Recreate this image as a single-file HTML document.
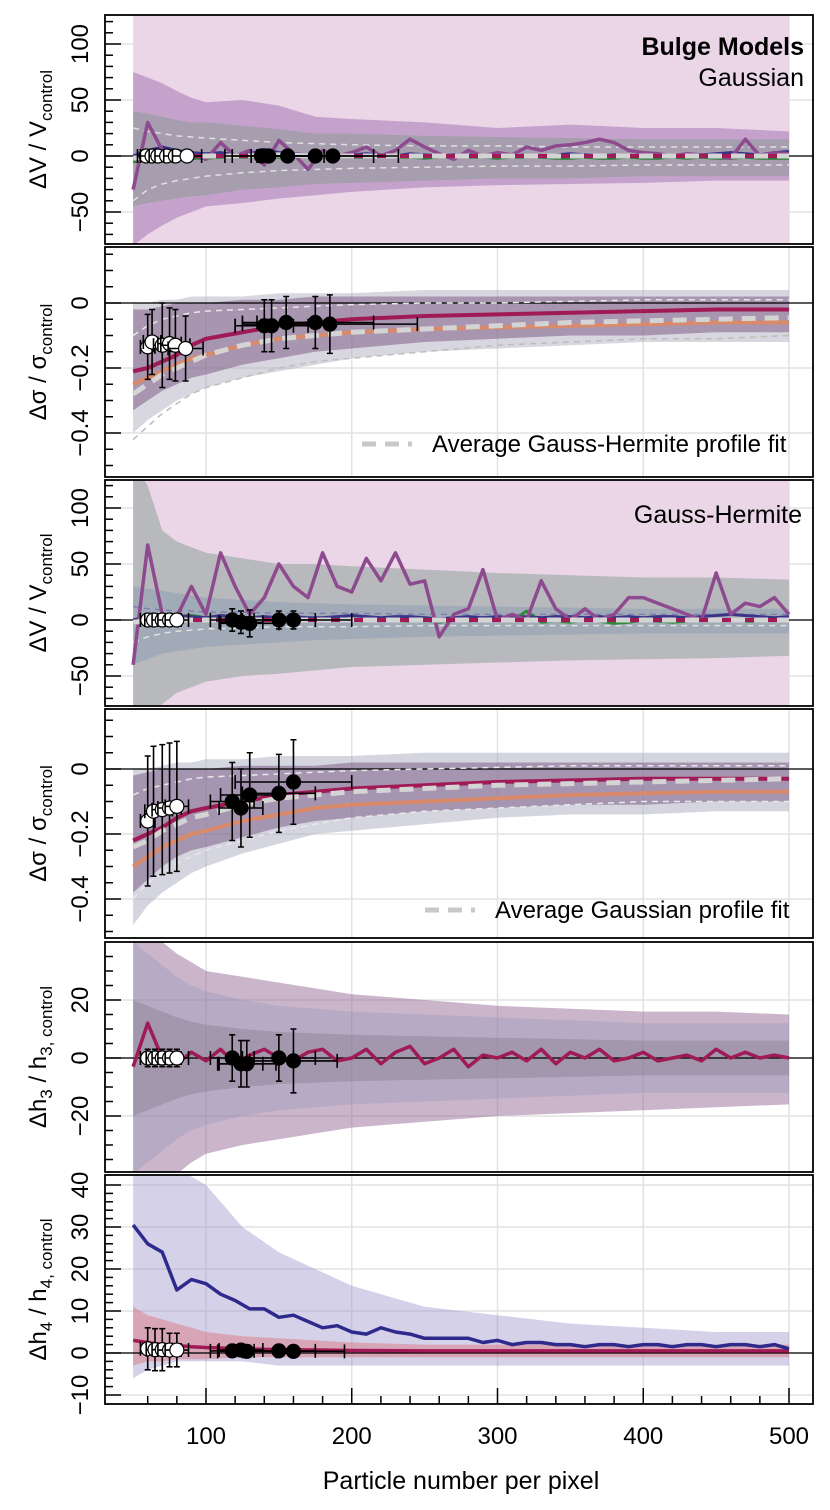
<!DOCTYPE html>
<html><head><meta charset="utf-8">
<style>
body{margin:0;background:#fff;}
svg{display:block;font-family:"Liberation Sans",sans-serif;}
</style></head>
<body>
<svg id="chart" width="830" height="1510" viewBox="0 0 830 1510" xmlns="http://www.w3.org/2000/svg"></svg>
<script>
// ---------- DATA ----------
const xTicks = [100,200,300,400,500];
const xGrid = [50,60,70,80,90,100,110,120,130,140,150,160,170,180,190,200,210,220,230,240,250,260,270,280,290,300,310,320,330,340,350,360,370,380,390,400,410,420,430,440,450,460,470,480,490,500];
const knots = [50,60,70,80,90,100,125,150,175,200,250,300,350,400,450,500];

// Panel 1: dV/V Gaussian
const p1PinkU = [140,140,140,140,140,140,140,140,140,140,140,140,140,140,135,130];
const p1PinkL = [-90,-90,-90,-90,-90,-90,-90,-90,-90,-90,-90,-90,-90,-90,-90,-90];
const p1PurpU = [75,70,65,58,52,48,50,45,35,33,30,25,28,25,25,22];
const p1PurpL = [-80,-70,-62,-55,-50,-45,-42,-38,-35,-32,-28,-26,-25,-24,-22,-22];
const p1GreyU = [40,38,35,32,30,30,27,24,20,20,18,17,16,15,15,15];
const p1GreyL = [-45,-42,-40,-38,-36,-35,-30,-28,-25,-24,-22,-20,-20,-18,-18,-18];
const p1DashU = [25,22,20,18,17,16,14,12,11,10,9,9,8,8,8,8];
const p1DashL = [-40,-30,-25,-22,-20,-18,-15,-13,-12,-11,-10,-9,-9,-8,-8,-8];
const p1Purple = [-30,30,5,3,2,-3,12,0,5,-8,14,2,-12,5,0,3,8,0,5,15,8,2,-3,5,0,3,1,8,5,9,10,12,15,12,5,3,2,0,2,1,0,-2,15,0,3,2];
const p1Navy = [0,5,8,5,3,2,3,1,2,6,3,2,1,1,0,1,2,1,0,2,1,0,1,1,0,1,0,1,0,1,2,1,0,1,0,1,0,1,0,1,2,3,2,1,3,4];
const p1Green = [-5,-4,-3,-3,-2,-2,-1,-1,-1,-1,-1,-1,0,-1,-1,-1,-1,0,-1,-1,-2,-1,-1,-1,-1,-2,-1,-1,-1,-2,-2,-1,-2,-2,-1,-2,-2,-1,-2,-1,-2,-2,-1,-2,-2,-2];
const p1Avg = [-2,-1,-1,0,0,0,0,1,0,0,0,0,0,0,0,0];
const p1WhiteX = [59,63,67,73,79,87];
const p1WhiteY = [0,0,0,0,0,0];
const p1WhiteYE = [4,4,4,4,4,4];
const p1WhiteXE = [6,8,6,8,8,10];
const p1BlackX = [138,143,156,175,187];
const p1BlackY = [0,0,0,0,0];
const p1BlackYE = [4,4,4,4,4];
const p1BlackXE = [20,30,25,40,45];

// Panel 2: dsigma Gaussian
const p2BandU = [-0.02,-0.02,-0.01,0,0,0,0.01,0.01,0.02,0.02,0.02,0.02,0.02,0.02,0.02,0.02];
const p2BandL = [-0.33,-0.30,-0.27,-0.25,-0.23,-0.22,-0.19,-0.17,-0.15,-0.14,-0.12,-0.11,-0.10,-0.10,-0.09,-0.09];
const p2WideU = [0.0,0.0,0.01,0.01,0.02,0.02,0.02,0.03,0.03,0.03,0.04,0.04,0.04,0.04,0.04,0.04];
const p2WideL = [-0.40,-0.36,-0.33,-0.30,-0.28,-0.26,-0.23,-0.21,-0.19,-0.17,-0.15,-0.14,-0.13,-0.12,-0.12,-0.12];
const p2DashU = [-0.10,-0.07,-0.05,-0.04,-0.03,-0.025,-0.02,-0.015,-0.01,-0.005,0,0,0.005,0.01,0.01,0.01];
const p2DashL = [-0.42,-0.38,-0.34,-0.31,-0.28,-0.26,-0.23,-0.20,-0.18,-0.17,-0.15,-0.13,-0.12,-0.11,-0.11,-0.10];
const p2Crimson = [-0.21,-0.20,-0.18,-0.16,-0.13,-0.11,-0.09,-0.07,-0.06,-0.05,-0.04,-0.035,-0.03,-0.025,-0.02,-0.02];
const p2Orange = [-0.25,-0.23,-0.21,-0.19,-0.17,-0.16,-0.13,-0.11,-0.10,-0.09,-0.08,-0.075,-0.07,-0.065,-0.06,-0.06];
const p2Avg = [-0.28,-0.25,-0.22,-0.20,-0.18,-0.16,-0.13,-0.11,-0.10,-0.09,-0.08,-0.07,-0.06,-0.055,-0.05,-0.045];
const p2WhiteX = [60,63,70,75,79,86];
const p2WhiteY = [-0.135,-0.12,-0.13,-0.125,-0.13,-0.14];
const p2WhiteYE = [0.1,0.1,0.13,0.11,0.11,0.1];
const p2WhiteXE = [5,6,6,8,10,12];
const p2BlackX = [140,145,155,175,185];
const p2BlackY = [-0.07,-0.07,-0.06,-0.06,-0.065];
const p2BlackYE = [0.08,0.08,0.08,0.08,0.09];
const p2BlackXE = [20,25,30,40,60];

// Panel 3: dV/V Gauss-Hermite
const p3GreyU = [140,120,80,70,65,60,55,50,50,48,45,42,40,38,38,36];
const p3GreyL = [-90,-85,-75,-65,-60,-55,-50,-48,-45,-42,-40,-38,-36,-35,-34,-32];
const p3BlueU = [30,28,26,24,22,20,18,16,15,14,13,12,11,10,10,10];
const p3BlueL = [-40,-35,-30,-28,-26,-24,-22,-20,-18,-17,-15,-14,-13,-12,-12,-12];
const p3DashU = [12,10,9,8,8,7,7,6,6,6,5,5,5,5,5,5];
const p3DashL = [-20,-15,-12,-10,-9,-8,-7,-6,-6,-6,-5,-5,-5,-5,-5,-5];
const p3Purple = [-40,67,5,3,30,5,60,30,5,20,50,30,20,60,30,25,55,35,60,32,35,-15,5,10,45,0,5,0,35,10,0,10,0,5,20,20,15,10,5,0,42,5,15,12,20,5];
const p3Navy = [0,3,5,4,3,2,4,3,2,3,2,3,2,2,3,4,3,2,3,3,2,1,2,3,2,3,2,3,2,3,3,2,3,2,3,2,3,3,2,3,4,5,4,3,2,3];
const p3Green = [-3,-2,-2,3,4,2,1,0,1,0,0,1,0,0,2,0,-1,0,0,-1,0,-2,0,-1,2,0,-1,8,-2,-1,-2,0,-1,-3,-2,0,-1,-2,-1,0,-1,0,-1,-1,0,0];
const p3Avg = [-2,-1,0,0,0,0,0,0,0,0,0,0,0,0,0,0];
const p3WhiteX = [60,64,70,75,80];
const p3WhiteY = [0,0,0,0,0];
const p3WhiteYE = [5,5,5,5,5];
const p3WhiteXE = [5,6,7,8,8];
const p3BlackX = [118,124,130,150,160];
const p3BlackY = [0,-2,-3,0,0];
const p3BlackYE = [10,10,12,8,8];
const p3BlackXE = [15,15,20,25,40];

// Panel 4: dsigma Gauss-Hermite
const p4BandU = [-0.02,-0.01,0,0,0,0,0.01,0.01,0.01,0.02,0.02,0.02,0.02,0.02,0.02,0.02];
const p4BandL = [-0.38,-0.34,-0.30,-0.27,-0.25,-0.24,-0.21,-0.18,-0.16,-0.15,-0.13,-0.12,-0.11,-0.11,-0.10,-0.10];
const p4WideU = [0,0,0.01,0.02,0.02,0.03,0.03,0.04,0.04,0.04,0.05,0.05,0.05,0.05,0.05,0.05];
const p4WideL = [-0.48,-0.42,-0.38,-0.35,-0.32,-0.30,-0.26,-0.23,-0.20,-0.19,-0.17,-0.15,-0.14,-0.14,-0.13,-0.13];
const p4DashU = [-0.08,-0.06,-0.05,-0.04,-0.03,-0.025,-0.02,-0.015,-0.01,-0.005,0,0.005,0.01,0.01,0.01,0.01];
const p4DashL = [-0.40,-0.35,-0.32,-0.29,-0.27,-0.25,-0.22,-0.19,-0.17,-0.15,-0.13,-0.12,-0.11,-0.10,-0.10,-0.10];
const p4Crimson = [-0.22,-0.20,-0.18,-0.15,-0.13,-0.12,-0.10,-0.08,-0.07,-0.06,-0.05,-0.04,-0.035,-0.03,-0.03,-0.03];
const p4Orange = [-0.30,-0.27,-0.24,-0.22,-0.20,-0.19,-0.16,-0.14,-0.12,-0.11,-0.10,-0.09,-0.08,-0.075,-0.07,-0.07];
const p4Avg = [-0.24,-0.22,-0.19,-0.17,-0.15,-0.14,-0.11,-0.09,-0.08,-0.07,-0.06,-0.05,-0.045,-0.04,-0.035,-0.03];
const p4WhiteX = [60,64,70,75,80];
const p4WhiteY = [-0.16,-0.13,-0.125,-0.12,-0.115];
const p4WhiteYE = [0.2,0.2,0.2,0.2,0.2];
const p4WhiteXE = [5,6,7,8,8];
const p4BlackX = [118,124,130,150,160];
const p4BlackY = [-0.10,-0.12,-0.08,-0.075,-0.04];
const p4BlackYE = [0.12,0.12,0.13,0.12,0.13];
const p4BlackXE = [15,15,20,25,40];

// Panel 5: dh3
const p5PurpU = [50,45,40,36,33,30,28,26,24,22,20,18,17,16,16,15];
const p5PurpL = [-55,-50,-45,-40,-36,-33,-30,-28,-26,-24,-22,-20,-19,-18,-17,-16];
const p5BlueU = [40,36,32,28,25,23,20,18,17,16,15,14,13,12,12,12];
const p5BlueL = [-40,-36,-32,-28,-25,-23,-20,-18,-17,-16,-15,-14,-13,-12,-12,-12];
const p5Crimson = [-3,12,0,-2,2,-1,3,-2,1,3,0,-1,2,3,-1,0,3,-2,2,4,-2,0,3,-3,1,0,2,-1,3,-2,2,0,3,-1,0,2,-1,0,1,-1,3,0,2,0,1,0];
const p5WhiteX = [60,65,70,75,80];
const p5WhiteY = [0,0,0,0,0];
const p5WhiteYE = [3,3,3,3,3];
const p5WhiteXE = [5,6,7,8,8];
const p5BlackX = [118,124,128,150,160];
const p5BlackY = [0,-2,-2,0,-1];
const p5BlackYE = [8,8,8,8,11];
const p5BlackXE = [15,15,20,25,30];

// Panel 6: dh4
const p6NavyU = [50,50,48,45,42,40,30,24,20,16,11,9,7,6,5,5];
const p6NavyL = [-6,-4,-3,-2,-2,-2,-2,-3,-3,-3,-3,-3,-3,-3,-3,-3];
const p6WarmU = [11,9,8,7,6,5,4,3.5,3,2.5,2,2,2,2,2,2];
const p6WarmL = [-3,-2,-2,-1.5,-1.5,-1.5,-1,-1,-1,-1,-1,-1,-1,-1,-1,-1];
const p6Navy = [30.5,26,24,15,17.5,16.5,14,12.5,10.5,10.5,8.5,9,7.5,6,6.5,5,4.5,6,5,4.5,3.5,3.5,3.5,3.5,2.5,3,2,2.5,2.5,2,2,1.5,2,2,1.5,2,2,1.5,2,2,1.5,2,2,1.5,2,1];
const p6Crimson = [3,2.5,2,1.8,1.5,1.3,1,0.8,0.7,0.6,0.5,0.5,0.5,0.5,0.5,0.5];
const p6WhiteX = [60,65,70,75,80];
const p6WhiteY = [1,0.8,0.8,0.7,0.7];
const p6WhiteYE = [5,5,5,4,4];
const p6WhiteXE = [5,6,7,8,8];
const p6BlackX = [118,124,128,150,160];
const p6BlackY = [0.5,0.7,0.4,0.5,0.4];
const p6BlackYE = [1.5,1.5,1.5,1,1];
const p6BlackXE = [15,15,20,25,35];

// ---------- RENDER ----------
const NS = "http://www.w3.org/2000/svg";
const svg = document.getElementById('chart');
const L = 105, R = 813;
function xs(v){ return 206 + (v-100)*1.4575; }
function mk(tag, attrs, parent){
  const e = document.createElementNS(NS, tag);
  for (const k in attrs) e.setAttribute(k, attrs[k]);
  (parent||svg).appendChild(e);
  return e;
}
const defs = mk('defs', {});

function panel(cfg){
  const g = mk('g', {});
  
  
  const ys = v => cfg.y0 - v*cfg.ppu;
  const cid = 'clip-' + cfg.name;
  const cp = mk('clipPath', {id: cid}, defs);
  mk('rect', {x:L, y:cfg.top, width:R-L, height:cfg.bot-cfg.top}, cp);
  const inner = mk('g', {'clip-path':'url(#'+cid+')'}, g);
  xTicks.forEach(v => {
    const gl = mk('line', {x1:xs(v), x2:xs(v), y1:cfg.top, y2:cfg.bot, stroke:'#e2e2e2', 'stroke-width':1.5}, inner);
    
    
  });
  cfg.ticks.forEach(v => {
    const gl = mk('line', {x1:L, x2:R, y1:ys(v), y2:ys(v), stroke:'#e2e2e2', 'stroke-width':1.5}, inner);
    
    
  });
  const band = (xv, up, lo, fill, name) => {
    let d = 'M' + xv.map((x,i)=>xs(x)+','+ys(up[i])).join('L');
    for (let i=xv.length-1;i>=0;i--) d += 'L'+xs(xv[i])+','+ys(lo[i]);
    const p = mk('path', {d:d+'Z', fill:fill}, inner);
    
    
  };
  const line = (xv, yv, stroke, w, dash, name) => {
    const p = mk('polyline', {points: xv.map((x,i)=>xs(x)+','+ys(yv[i])).join(' '), fill:'none', stroke:stroke, 'stroke-width':w, 'stroke-linejoin':'round'}, inner);
    if (dash) p.setAttribute('stroke-dasharray', dash);
    
    
  };
  cfg.bands.forEach(b => band(b[0], b[1], b[2], b[3], b[4]));
  const zl = mk('line', {x1:L, x2:R, y1:ys(0), y2:ys(0), stroke:'#000', 'stroke-width':1.3}, inner);
  
  
  cfg.lines.forEach(l => line(l[0], l[1], l[2], l[3], l[4], l[5]));
  const pts = (X, Y, YE, XE, fill, name) => {
    X.forEach((x,i) => {
      const pg = mk('g', {}, inner);
      
      
      const cx = xs(x), cy = ys(Y[i]);
      const y1 = ys(Y[i]+YE[i]), y2 = ys(Y[i]-YE[i]);
      const x1 = xs(x-XE[i]), x2 = xs(x+XE[i]);
      mk('path', {d:`M${cx},${y1}V${y2}M${cx-3},${y1}H${cx+3}M${cx-3},${y2}H${cx+3}M${x1},${cy}H${x2}M${x1},${cy-7}V${cy+7}M${x2},${cy-7}V${cy+7}`, stroke:'#000', 'stroke-width':1.6, fill:'none'}, pg);
      mk('circle', {cx:cx, cy:cy, r:7, fill:fill, stroke:'#000', 'stroke-width':1.2}, pg);
    });
  };
  pts(cfg.bx, cfg.by, cfg.bye, cfg.bxe, '#000', 'black-point');
  pts(cfg.wx, cfg.wy, cfg.wye, cfg.wxe, '#fff', 'white-point');
  const fr = mk('rect', {x:L, y:cfg.top, width:R-L, height:cfg.bot-cfg.top, fill:'none', stroke:'#000', 'stroke-width':1.8}, g);
  
  
  for (let v = cfg.minLo; v <= cfg.minHi + 1e-9; v += cfg.minor) {
    const y = ys(v);
    if (y < cfg.top+2 || y > cfg.bot-2) continue;
    const isMaj = cfg.ticks.some(t => Math.abs(t-v) < 1e-6);
    mk('line', {x1:L, x2:L+(isMaj?16:8), y1:y, y2:y, stroke:'#000', 'stroke-width':1.5}, g);
  }
  cfg.ticks.forEach((v,i) => {
    const t = mk('text', {x:0, y:0, 'font-size':24, 'text-anchor':'middle', transform:`translate(88,${ys(v)}) rotate(-90)`}, g);
    t.textContent = cfg.labels[i];
    
    
  });
  const yt = mk('text', {x:0, y:0, 'font-size':24, 'text-anchor':'middle', transform:`translate(46,${(cfg.top+cfg.bot)/2}) rotate(-90)`}, g);
  yt.innerHTML = cfg.title;
  
  
  return g;
}

const purpleBand = 'rgba(150,100,170,0.45)';
const greyBand = 'rgba(140,155,150,0.55)';
const pink = 'rgb(235,214,232)';

panel({name:'panel-v-gaussian', top:15, bot:244, y0:156, ppu:1.12, ticks:[100,50,0,-50], labels:['100','50','0','\u221250'], minor:10, minLo:-80, minHi:120,
  title:'ΔV / V<tspan font-size="17" dy="6">control</tspan>',
  bands:[[knots,p1PinkU,p1PinkL,pink,'pink-band'],[knots,p1PurpU,p1PurpL,purpleBand,'purple-band'],[knots,p1GreyU,p1GreyL,greyBand,'grey-band']],
  lines:[[knots,p1DashU,'#e0e0e0',1.5,'6,5','dashed-upper'],[knots,p1DashL,'#e0e0e0',1.5,'6,5','dashed-lower'],
    [xGrid,p1Green,'#2e7d3a',3,null,'green-line'],[xGrid,p1Navy,'#3a3388',3,null,'navy-line'],[xGrid,p1Purple,'#8e4a8e',3.5,null,'purple-line'],
    [knots,p1Avg,'#a01a55',4,null,'crimson-line'],[knots,p1Avg,'#d4d4d4',5,'14,9','average-fit-line']],
  wx:p1WhiteX,wy:p1WhiteY,wye:p1WhiteYE,wxe:p1WhiteXE,bx:p1BlackX,by:p1BlackY,bye:p1BlackYE,bxe:p1BlackXE});

panel({name:'panel-sigma-gaussian', top:247, bot:477, y0:303, ppu:325, ticks:[0,-0.2,-0.4], labels:['0','\u22120.2','\u22120.4'], minor:0.05, minLo:-0.5, minHi:0.15,
  title:'Δσ / σ<tspan font-size="17" dy="6">control</tspan>',
  bands:[[knots,p2WideU,p2WideL,'rgba(200,150,170,0.35)','wide-band'],[knots,p2WideU,p2WideL,'rgba(140,200,210,0.2)','teal-band'],[knots,p2BandU,p2BandL,'rgba(110,70,120,0.45)','purple-band']],
  lines:[[knots,p2DashU,'#e8e8e8',1.5,'6,5','dashed-upper'],[knots,p2DashL,'#bdbdbd',1.5,'6,5','dashed-lower'],
    [knots,p2Orange,'#d98a6a',4,null,'orange-line'],[knots,p2Crimson,'#a01a55',4,null,'crimson-line'],[knots,p2Avg,'#d4d4d4',5,'14,9','average-fit-line']],
  wx:p2WhiteX,wy:p2WhiteY,wye:p2WhiteYE,wxe:p2WhiteXE,bx:p2BlackX,by:p2BlackY,bye:p2BlackYE,bxe:p2BlackXE});

panel({name:'panel-v-gauss-hermite', top:480, bot:706, y0:620, ppu:1.12, ticks:[100,50,0,-50], labels:['100','50','0','\u221250'], minor:10, minLo:-80, minHi:120,
  title:'ΔV / V<tspan font-size="17" dy="6">control</tspan>',
  bands:[[knots,p1PinkU,p1PinkL,pink,'pink-band'],[knots,p3GreyU,p3GreyL,'rgba(150,165,160,0.6)','grey-band'],[knots,p3BlueU,p3BlueL,'rgba(110,140,170,0.3)','blue-band']],
  lines:[[knots,p3DashU,'#8080b0',1.5,'6,5','dashed-upper'],[knots,p3DashL,'#e0e0e0',1.5,'6,5','dashed-lower'],
    [xGrid,p3Green,'#2e8a3a',3,null,'green-line'],[xGrid,p3Navy,'#3a3388',3,null,'navy-line'],[xGrid,p3Purple,'#8e4a8e',3.5,null,'purple-line'],
    [knots,p3Avg,'#a01a55',4,null,'crimson-line'],[knots,p3Avg,'#d4d4d4',5,'14,9','average-fit-line']],
  wx:p3WhiteX,wy:p3WhiteY,wye:p3WhiteYE,wxe:p3WhiteXE,bx:p3BlackX,by:p3BlackY,bye:p3BlackYE,bxe:p3BlackXE});

panel({name:'panel-sigma-gauss-hermite', top:709, bot:938, y0:769, ppu:325, ticks:[0,-0.2,-0.4], labels:['0','\u22120.2','\u22120.4'], minor:0.05, minLo:-0.5, minHi:0.15,
  title:'Δσ / σ<tspan font-size="17" dy="6">control</tspan>',
  bands:[[knots,p4WideU,p4WideL,'rgba(200,150,170,0.35)','wide-band'],[knots,p4WideU,p4WideL,'rgba(140,200,220,0.25)','teal-band'],[knots,p4BandU,p4BandL,'rgba(110,70,120,0.45)','purple-band']],
  lines:[[knots,p4DashU,'#e8e8e8',1.5,'6,5','dashed-upper'],[knots,p4DashL,'#e8e8e8',1.5,'6,5','dashed-lower'],
    [knots,p4Orange,'#d98a6a',4,null,'orange-line'],[knots,p4Crimson,'#a01a55',4,null,'crimson-line'],[knots,p4Avg,'#d4d4d4',5,'14,9','average-fit-line']],
  wx:p4WhiteX,wy:p4WhiteY,wye:p4WhiteYE,wxe:p4WhiteXE,bx:p4BlackX,by:p4BlackY,bye:p4BlackYE,bxe:p4BlackXE});

panel({name:'panel-h3', top:942, bot:1172, y0:1058, ppu:2.9, ticks:[20,0,-20], labels:['20','0','\u221220'], minor:5, minLo:-40, minHi:40,
  title:'Δh<tspan font-size="17" dy="6">3</tspan><tspan dy="-6"> / h</tspan><tspan font-size="17" dy="6">3, control</tspan>',
  bands:[[knots,p5BlueU,p5BlueL,'rgba(150,200,225,0.35)','blue-band'],[knots,p5PurpU,p5PurpL,'rgba(140,90,140,0.45)','purple-band'],[knots,p5BlueU.map(v=>v*0.5),p5BlueL.map(v=>v*0.5),'rgba(120,110,120,0.3)','inner-band']],
  lines:[[xGrid,p5Crimson,'#a01a55',3.5,null,'crimson-line']],
  wx:p5WhiteX,wy:p5WhiteY,wye:p5WhiteYE,wxe:p5WhiteXE,bx:p5BlackX,by:p5BlackY,bye:p5BlackYE,bxe:p5BlackXE});

panel({name:'panel-h4', top:1175, bot:1404, y0:1353, ppu:4.2, ticks:[40,30,20,10,0,-10], labels:['40','30','20','10','0','\u221210'], minor:2, minLo:-12, minHi:42,
  title:'Δh<tspan font-size="17" dy="6">4</tspan><tspan dy="-6"> / h</tspan><tspan font-size="17" dy="6">4, control</tspan>',
  bands:[[knots,p6NavyU,p6NavyL,'rgba(150,140,200,0.4)','navy-band'],[knots,p6WarmU,p6WarmL,'rgba(220,110,120,0.45)','warm-band']],
  lines:[[knots,p6Crimson,'#a01a55',3.5,null,'crimson-line'],[xGrid,p6Navy,'#2e2a8c',3.5,null,'navy-line']],
  wx:p6WhiteX,wy:p6WhiteY,wye:p6WhiteYE,wxe:p6WhiteXE,bx:p6BlackX,by:p6BlackY,bye:p6BlackYE,bxe:p6BlackXE});

const xa = mk('g', {});


for (let v = 60; v <= 500; v += 20) {
  const isMaj = v % 100 === 0;
  mk('line', {x1:xs(v), x2:xs(v), y1:1404, y2:1404-(isMaj?16:8), stroke:'#000', 'stroke-width':1.5}, xa);
}
xTicks.forEach(v => {
  const t = mk('text', {x:xs(v), y:1444, 'font-size':24, 'text-anchor':'middle'}, xa);
  t.textContent = v;
  
  
});
</script>
<svg style="position:absolute;left:0;top:0" width="830" height="1510" xmlns="http://www.w3.org/2000/svg" font-family="Liberation Sans, sans-serif">
  <text x="461" y="1489" font-size="25" text-anchor="middle">Particle number per pixel</text>
  <text x="804" y="55" font-size="25" font-weight="bold" text-anchor="end">Bulge Models</text>
  <text x="804" y="86" font-size="25" text-anchor="end">Gaussian</text>
  <text x="802" y="523" font-size="25" text-anchor="end">Gauss-Hermite</text>
  <g>
    <line x1="362" x2="412" y1="444" y2="444" stroke="#c8c8c8" stroke-width="5" stroke-dasharray="14,9"/>
    <text x="432" y="452" font-size="24">Average Gauss-Hermite profile fit</text>
  </g>
  <g>
    <line x1="425" x2="475" y1="910" y2="910" stroke="#c8c8c8" stroke-width="5" stroke-dasharray="14,9"/>
    <text x="495" y="918" font-size="24">Average Gaussian profile fit</text>
  </g>
</svg>
</body></html>
